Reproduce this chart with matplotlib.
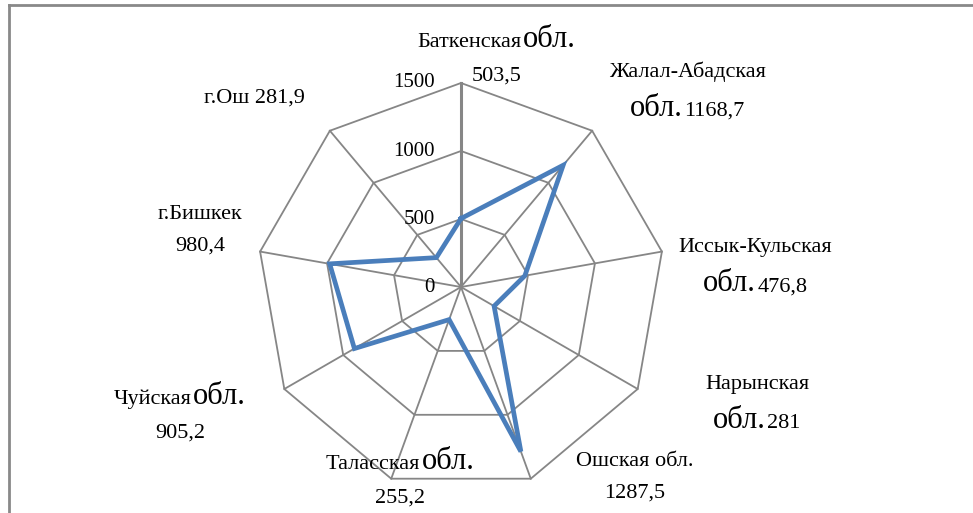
import matplotlib
matplotlib.use("Agg")
import matplotlib.pyplot as plt
import numpy as np
from matplotlib.lines import Line2D
from matplotlib.offsetbox import TextArea, HPacker, VPacker, AnnotationBbox

regions = ["Баткенская обл.", "Жалал-Абадская обл.", "Иссык-Кульская обл.",
           "Нарынская обл.", "Ошская обл.", "Таласская обл.", "Чуйская обл.",
           "г.Бишкек", "г.Ош"]
values = [503.5, 1168.7, 476.8, 281, 1287.5, 255.2, 905.2, 980.4, 281.9]
ticks = [0, 500, 1000, 1500]

# how each data label is broken into lines (A..E), and where it sits (px from centre)
layout = ["A", "B", "B", "B", "C", "A", "A", "D", "E"]
label_px = [(36, 232), (226, 195), (294, 19), (296, -118), (174, -190),
            (-61, -190), (-281, -125), (-261, 57), (-207, 189)]

W, H = 973, 513
cx, cy = 461, 287
s = 204 / 1500.0   # px per unit

fig = plt.figure(figsize=(W / 100, H / 100), dpi=100)
ax = fig.add_axes([0, 0, 1, 1])
ax.set_xlim(-cx / s, (W - cx) / s)
ax.set_ylim(-(H - cy) / s, cy / s)
ax.axis("off")

font = "Liberation Serif"
grid_c = "#868686"
n = len(regions)
ang = np.arange(n) * 2 * np.pi / n

# grid polygons and spokes
for t in ticks[1:]:
    xs = t * np.sin(np.append(ang, ang[0]))
    ys = t * np.cos(np.append(ang, ang[0]))
    ax.plot(xs, ys, color=grid_c, lw=1.3, zorder=1)
for i, a in enumerate(ang):
    ax.plot([0, ticks[-1] * np.sin(a)], [0, ticks[-1] * np.cos(a)],
            color=grid_c, lw=2.2 if i == 0 else 1.3, zorder=1)

# tick labels
for t in ticks:
    ax.annotate(str(t), (0, t), xytext=(-19, 0), textcoords="offset points",
                ha="right", va="center", fontsize=15, family=font)

# data line
v = np.array(values)
xs = v * np.sin(ang)
ys = v * np.cos(ang)
ax.plot(np.append(xs, xs[0]), np.append(ys, ys[0]), color="#4A7EBB", lw=3.4,
        zorder=3, solid_joinstyle="miter")


def ta(txt, big=False):
    return TextArea(txt, textprops=dict(fontsize=22 if big else 16, family=font))


def fmt(x):
    return ("%g" % x).replace(".", ",")


for name, val, code, (dx, dy) in zip(regions, values, layout, label_px):
    base = name.replace(" обл.", "")
    sval = fmt(val)
    if code == "A":
        lines = [[ta(base), ta("обл.", True)], [ta(sval)]]
    elif code == "B":
        lines = [[ta(base)], [ta("обл.", True), ta(sval)]]
    elif code == "C":
        lines = [[ta(name)], [ta(sval)]]
    elif code == "D":
        lines = [[ta(name)], [ta(sval)]]
    else:
        lines = [[ta(name + " " + sval)]]
    rows = [HPacker(children=l, align="baseline", pad=0, sep=1) for l in lines]
    box = VPacker(children=rows, align="center", pad=0, sep=9)
    ab = AnnotationBbox(box, (dx / s, dy / s), frameon=False,
                        box_alignment=(0.5, 0.5), zorder=4)
    ax.add_artist(ab)

# chart area border (top and left only visible)
fig.add_artist(Line2D([9 / W, 1], [1 - 5 / H, 1 - 5 / H], color="#898989", lw=2))
fig.add_artist(Line2D([9 / W, 9 / W], [0, 1 - 5 / H], color="#898989", lw=2))

fig.savefig("out.png", dpi=100)
